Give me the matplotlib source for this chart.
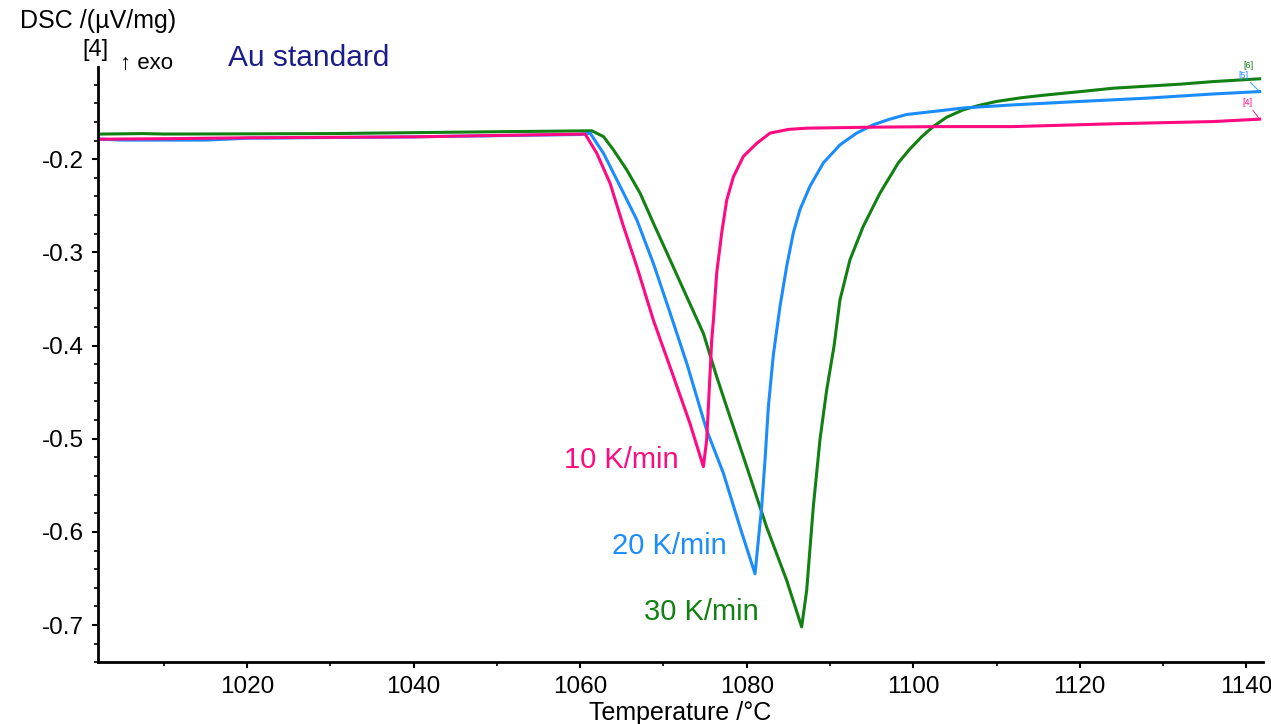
import matplotlib
matplotlib.use("Agg")
import matplotlib.pyplot as plt
from matplotlib.ticker import MultipleLocator

plt.rcParams['font.family'] = ['Liberation Sans', 'DejaVu Sans']
plt.rcParams['axes.unicode_minus'] = False

# DSC curves of the Au standard
t_10 = [1002.5, 1010, 1020, 1030, 1040, 1050, 1060.6, 1062.0, 1063.6, 1065.2,
        1066.8, 1068.8, 1070.8, 1073.2, 1074.8, 1075.2, 1075.6, 1075.8, 1076.0,
        1076.4, 1077.0, 1077.6, 1078.4, 1079.6, 1081.2, 1082.8, 1085, 1087.2,
        1095.2, 1103.2, 1112, 1124, 1136, 1141.6]
dsc_10 = [-0.1785, -0.178, -0.177, -0.1765, -0.176, -0.1745, -0.173, -0.1936,
          -0.226, -0.272, -0.315, -0.373, -0.423, -0.484, -0.530, -0.501, -0.430,
          -0.394, -0.373, -0.322, -0.279, -0.244, -0.219, -0.197, -0.183, -0.172,
          -0.168, -0.1667, -0.1656, -0.165, -0.165, -0.162, -0.1596, -0.157]

t_20 = [1002.5, 1005, 1015, 1020, 1040, 1060, 1061.2, 1062.8, 1064.8, 1066.8,
        1068.8, 1070.8, 1072.8, 1075.2, 1077.2, 1079.2, 1081.0, 1081.4, 1081.8,
        1082.2, 1082.6, 1083.2, 1084.0, 1084.8, 1085.6, 1086.4, 1087.6, 1089.2,
        1091.2, 1093.2, 1095.2, 1097.2, 1099.2, 1103.2, 1106, 1112, 1120, 1128,
        1136, 1141.6]
dsc_20 = [-0.1785, -0.1795, -0.1795, -0.1775, -0.176, -0.1735, -0.172, -0.1936,
          -0.229, -0.265, -0.312, -0.365, -0.419, -0.491, -0.537, -0.595, -0.645,
          -0.609, -0.573, -0.523, -0.466, -0.410, -0.358, -0.315, -0.279, -0.254,
          -0.229, -0.204, -0.1846, -0.172, -0.163, -0.157, -0.152, -0.148, -0.145,
          -0.1417, -0.138, -0.1345, -0.130, -0.1274]

t_30 = [1002.5, 1007.5, 1010, 1020, 1030, 1040, 1050, 1061.4, 1062.8, 1064.0,
        1065.6, 1067.2, 1068.8, 1070.8, 1072.8, 1074.8, 1076.4, 1077.6, 1080.0,
        1082.4, 1084.8, 1086.6, 1087.2, 1088.0, 1088.8, 1089.6, 1090.5, 1091.2,
        1092.4, 1094.0, 1096.0, 1098.2, 1099.6, 1101.0, 1102.4, 1104.0, 1106,
        1108, 1110, 1113, 1116, 1120, 1124, 1132, 1136, 1141.6]
dsc_30 = [-0.173, -0.1725, -0.173, -0.1728, -0.1725, -0.1715, -0.1705, -0.1695,
          -0.1757, -0.190, -0.2115, -0.2365, -0.2687, -0.308, -0.3476, -0.387,
          -0.4335, -0.466, -0.530, -0.595, -0.652, -0.702, -0.663, -0.573, -0.501,
          -0.448, -0.400, -0.351, -0.308, -0.272, -0.2365, -0.204, -0.189, -0.176,
          -0.165, -0.155, -0.147, -0.142, -0.138, -0.134, -0.131, -0.1275,
          -0.1238, -0.1195, -0.1167, -0.1137]

pink = '#ff0a80'
blue = '#1a8cff'
green = '#128012'

fig = plt.figure(figsize=(12.71, 7.24), dpi=100)
ax = fig.add_axes([0.0771, 0.0852, 0.9166, 0.8223])

ax.plot(t_30, dsc_30, color=green, lw=2.2)
ax.plot(t_20, dsc_20, color=blue, lw=2.2)
ax.plot(t_10, dsc_10, color=pink, lw=2.2)

ax.set_xlim(1002.1, 1142.0)
ax.set_ylim(-0.740, -0.101)

for s in ['top', 'right']:
    ax.spines[s].set_visible(False)
for s in ['left', 'bottom']:
    ax.spines[s].set_linewidth(2)

ax.xaxis.set_major_locator(MultipleLocator(20))
ax.xaxis.set_minor_locator(MultipleLocator(10))
ax.yaxis.set_major_locator(MultipleLocator(0.1))
ax.yaxis.set_minor_locator(MultipleLocator(0.02))
ax.tick_params(which='major', length=4, width=1.5, labelsize=17.5, pad=6)
ax.tick_params(which='minor', length=3, width=1.2)
ax.yaxis.set_major_formatter(plt.FuncFormatter(lambda v, p: '%.1f' % v))

ax.set_xlabel('Temperature /°C', fontsize=18, labelpad=2)

# curve labels
ax.text(1065.0, -0.523, '10 K/min', color=pink, fontsize=21, ha='center', va='center')
ax.text(1070.7, -0.615, '20 K/min', color=blue, fontsize=21, ha='center', va='center')
ax.text(1074.6, -0.686, '30 K/min', color=green, fontsize=21, ha='center', va='center')

# small segment tags at the curve ends
ax.annotate('[6]', xy=(t_30[-1], dsc_30[-1]), xytext=(-8, 8), textcoords='offset points',
            color=green, fontsize=6.5, ha='center')
ax.annotate('[5]', xy=(t_20[-1], dsc_20[-1]), xytext=(-12, 10), textcoords='offset points',
            color=blue, fontsize=6.5, ha='center',
            arrowprops=dict(arrowstyle='-', color=blue, lw=0.6, shrinkA=0, shrinkB=0))
ax.annotate('[4]', xy=(t_10[-1], dsc_10[-1]), xytext=(-9, 10), textcoords='offset points',
            color=pink, fontsize=6.5, ha='center',
            arrowprops=dict(arrowstyle='-', color=pink, lw=0.6, shrinkA=0, shrinkB=0))

W, H = 1271, 724
fig.text(20 / W, 1 - 21 / H, 'DSC /(µV/mg)', fontsize=18, ha='left', va='center')
fig.text(82 / W, 1 - 50 / H, '[4]', fontsize=17, ha='left', va='center')
fig.text(120 / W, 1 - 64 / H, '↑ exo', fontsize=16, ha='left', va='center')
fig.text(228 / W, 1 - 58 / H, 'Au standard', fontsize=21.5, color='#1c1c8c',
         ha='left', va='center')

fig.savefig('out.png', dpi=100)
